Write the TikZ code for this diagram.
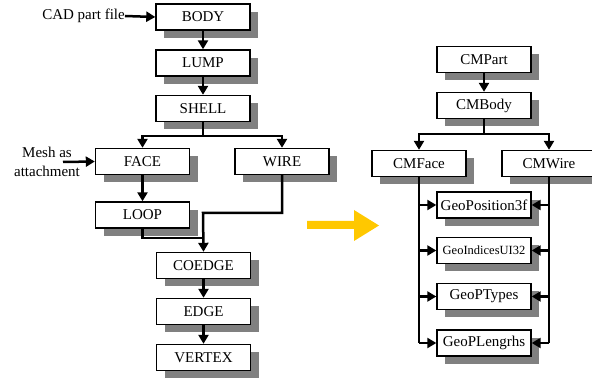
\documentclass[tikz,border=0pt]{standalone}
\usepackage{fontspec}
\setmainfont{Liberation Serif}
\usetikzlibrary{arrows.meta,shadows}
\definecolor{shadowgray}{RGB}{128,128,128}
\definecolor{flowyellow}{RGB}{255,200,0}
\tikzset{
  box/.style={draw=black, line width=1.4pt, fill=white,
    minimum width=94pt, minimum height=26pt, inner sep=2pt,
    font=\fontsize{15}{18}\selectfont,
    drop shadow={shadow xshift=8pt, shadow yshift=-8pt, fill=shadowgray, opacity=1}},
  lbl/.style={font=\fontsize{15}{19}\selectfont, inner sep=0pt, align=center},
  arr/.style={line width=2.5pt, -{Triangle[length=9pt,width=10pt]}},
  ln/.style={line width=2.5pt}
}
\begin{document}
\begin{tikzpicture}[x=1pt,y=-1pt]
\useasboundingbox (0,0) rectangle (592,379);

% ---- source model: topology tree ----
\node[box] (body)   at (203,17)    {BODY};
\node[box] (lump)   at (203,63)    {LUMP};
\node[box] (shell)  at (203,108.5) {SHELL};
\node[box] (face)   at (142.5,161.5) {FACE};
\node[box] (wire)   at (282,161.5) {WIRE};
\node[box] (loop)   at (142.5,215) {LOOP};
\node[box] (coedge) at (203.5,265.5) {COEDGE};
\node[box] (edge)   at (203.5,311.5) {EDGE};
\node[box] (vertex) at (203.5,357.5) {VERTEX};

\node[lbl, anchor=east] (cad) at (125,16) {CAD part file};
\node[lbl] (mesh) at (47,162) {Mesh as\\attachment};
\coordinate (meshin) at (63,162);

\coordinate (split) at (203,136);
\coordinate (wj) at (203,213);
\coordinate (lj) at (203,238);

\draw[arr] (cad.east) -- (body.west);
\draw[arr] (body.south) -- (lump.north);
\draw[arr] (lump.south) -- (shell.north);
\draw[ln] (shell.south) -- (split);
\draw[arr] (split) -| (face.north);
\draw[arr] (split) -| (wire.north);
\draw[arr] (meshin) -- (face.west);
\draw[arr] (face.south) -- (loop.north);
\draw[arr] (wire.south) |- (wj) -- (coedge.north);
\draw[ln] (loop.south) |- (lj);
\draw[arr] (coedge.south) -- (edge.north);
\draw[arr] (edge.south) -- (vertex.north);

% ---- conversion arrow ----
\fill[flowyellow] (307,221) -- (354,221) -- (354,210) -- (379,225.5)
  -- (354,241) -- (354,229) -- (307,229) -- cycle;

% ---- target model: scene-graph classes ----
\node[box] (cmpart) at (484,59.5)  {CMPart};
\node[box] (cmbody) at (484,105.5) {CMBody};
\node[box] (cmface) at (419,163.5) {CMFace};
\node[box] (cmwire) at (549,163.5) {CMWire};
\node[box] (geopos) at (484,205)   {GeoPosition3f};
\node[box, font=\fontsize{12.5}{15}\selectfont] (geoind) at (484,250.5) {GeoIndicesUI32};
\node[box] (geotyp) at (484,296.5) {GeoPTypes};
\node[box] (geolen) at (484,343)   {GeoPLengrhs};

\coordinate (rsplit) at (484,134);

\draw[arr] (cmpart.south) -- (cmbody.north);
\draw[ln] (cmbody.south) -- (rsplit);
\draw[arr] (rsplit) -| (cmface.north);
\draw[arr] (rsplit) -| (cmwire.north);

\draw[ln] (cmface.south) -- (cmface.south |- geolen.west);
\draw[ln] (cmwire.south) -- (cmwire.south |- geolen.east);
\foreach \g in {geopos,geoind,geotyp,geolen}{
  \draw[arr] (cmface.south |- \g.west) -- (\g.west);
  \draw[arr] (cmwire.south |- \g.east) -- (\g.east);
}
\end{tikzpicture}
\end{document}
